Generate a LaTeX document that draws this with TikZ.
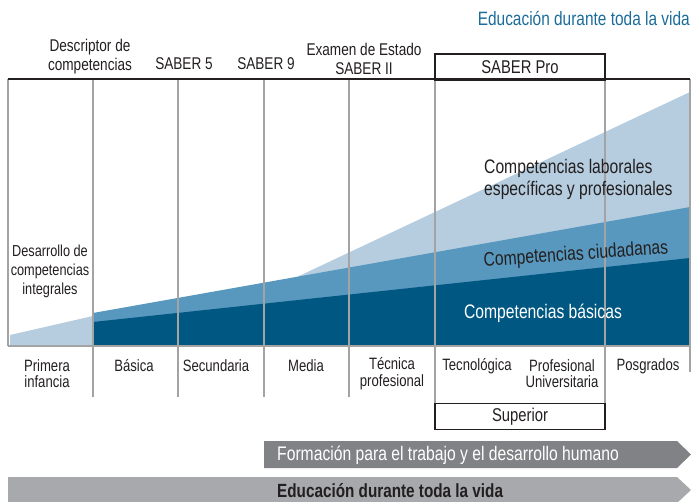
\documentclass[tikz,border=0pt]{standalone}
\usepackage{fontspec}
\setmainfont{Liberation Sans}[FakeStretch=0.8]
\usetikzlibrary{calc}

\definecolor{darkblue}{HTML}{005882}
\definecolor{midblue}{HTML}{5898BE}
\definecolor{lightblue}{HTML}{B5CDDF}
\definecolor{titleblue}{HTML}{1B6C9A}
\definecolor{arrowdark}{HTML}{808285}
\definecolor{arrowlight}{HTML}{A7A9AC}
\definecolor{gridgray}{HTML}{A3A3A3}
\definecolor{inkgray}{HTML}{231F20}

\begin{document}
\begin{tikzpicture}[x=1pt,y=-1pt,
	toplbl/.style={align=center, inner sep=0pt, text=inkgray, font=\fontsize{17}{19}\selectfont},
	botlbl/.style={align=center, inner sep=0pt, text=inkgray, font=\fontsize{16.4}{16.6}\selectfont},
	arealbl/.style={inner sep=0pt, font=\fontsize{19.6}{22}\selectfont},
	gridline/.style={gridgray, line width=1.2pt},
	framebox/.style={draw=inkgray, line width=1.4pt, minimum width=170pt, minimum height=26pt, inner sep=0pt, text=inkgray, font=\fontsize{18.5}{20}\selectfont}]

	\useasboundingbox (0,0) rectangle (693,502);

	% corners of the chart
	\coordinate (TL) at (8,79);
	\coordinate (TR) at (690,79);
	\coordinate (BL) at (8,346);
	\coordinate (BR) at (690,346);

	% areas
	\fill[lightblue] (10,335) -- (93,316) -- (93,346) -- (10,346) -- cycle;
	\fill[lightblue] (298,276.5) -- (690,92) -- (BR) -- (298,346) -- cycle;
	\fill[midblue] (93,313) -- (690,207) -- (BR) -- (93,346) -- cycle;
	\fill[darkblue] (93,322) -- (690,258) -- (BR) -- (93,346) -- cycle;

	% columns
	\draw[gridline] (TL) -- (BL);
	\foreach \x/\e in {93/397,178/397,264/397,349/397,435/403,605/403,690/372}
		\draw[gridline] (\x,79) -- (\x,\e);
	\draw[gridline] (BL) -- (BR);
	\draw[inkgray, line width=1.4pt] (TL) -- (TR);

	% title
	\node[anchor=east, inner sep=0pt, text=titleblue, font=\fontsize{19.3}{22}\selectfont]
		(title) at (690,18.5) {Educación durante toda la vida};

	% tests above the chart
	\node[toplbl] (descriptor) at (90,57) {Descriptor de\\competencias};
	\node[toplbl] (saber5) at (184,64) {SABER 5};
	\node[toplbl] (saber9) at (266,64) {SABER 9};
	\node[toplbl] (saber11) at (364,59) {Examen de Estado\\SABER II};
	\node[framebox] (saberpro) at (520,67) {SABER Pro};

	% area labels
	\node[toplbl, font=\fontsize{15.9}{19}\selectfont] (integrales) at (50,271)
		{Desarrollo de\\competencias\\integrales};
	\node[arealbl, align=left, anchor=west, text=inkgray]
		(laborales) at (484,179) {Competencias laborales\\específicas y profesionales};
	\node[arealbl, text=inkgray, rotate=4] (ciudadanas) at (576,255) {Competencias ciudadanas};
	\node[arealbl, text=white] (basicas) at (543,313) {Competencias básicas};

	% levels below the chart
	\node[botlbl] (primera) at (47,373.5) {Primera\\infancia};
	\node[botlbl] (basica) at (134,366) {Básica};
	\node[botlbl] (secundaria) at (216,366) {Secundaria};
	\node[botlbl] (media) at (306,366) {Media};
	\node[botlbl] (tecnica) at (392,373.5) {Técnica\\profesional};
	\node[botlbl] (tecnologica) at (477,366) {Tecnológica};
	\node[botlbl] (profesional) at (562,373.5) {Profesional\\Universitaria};
	\node[botlbl] (posgrados) at (648,366) {Posgrados};
	\node[framebox] (superior) at (520,416.5) {Superior};

	% arrows
	\fill[arrowdark] (264,441) -- (677,441) -- (691,454.5) -- (677,468) -- (264,468) -- cycle;
	\fill[arrowlight] (8,477) -- (677,477) -- (691,490) -- (677,503) -- (8,503) -- cycle;
	\node[arealbl, anchor=west, text=white] (formacion) at (277,455)
		{Formación para el trabajo y el desarrollo humano};
	\node[arealbl, anchor=west, text=inkgray, font=\fontsize{19.1}{22}\selectfont\bfseries]
		(vida) at (277,491) {Educación durante toda la vida};

\end{tikzpicture}
\end{document}
